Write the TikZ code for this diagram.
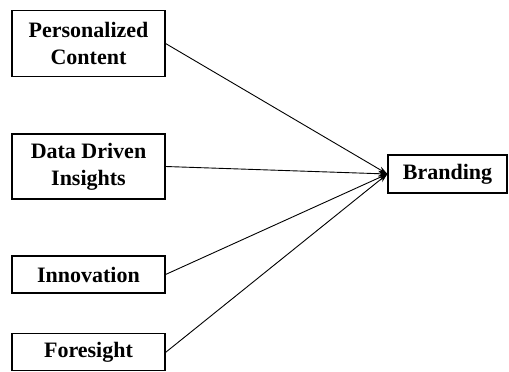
\documentclass[tikz,border=0pt]{standalone}
\usepackage{fontspec}
\setmainfont{Liberation Serif}
\usetikzlibrary{arrows.meta}

\begin{document}
\begin{tikzpicture}[x=1pt,y=1pt]
      \def\bw{153}
      \def\bx{88.5}

      \useasboundingbox (0,0) rectangle (509,372);

      \tikzset{factor/.style={shape=rectangle,draw,line width=1.2pt,
          minimum width=\bw pt,inner sep=0pt,align=center,
          font=\fontsize{22}{27}\selectfont\bfseries}}

      % left boxes
      \path node (pers) at (\bx,328.5) [factor,minimum height=66pt]
            {Personalized\\Content};
      \path node (data) at (\bx,205.5) [factor,minimum height=65pt]
            {Data Driven\\Insights};
      \path node (innov) at (\bx,97.5) [factor,minimum height=37pt]
            {Innovation};
      \path node (fore) at (\bx,19.6) [factor,minimum height=37pt]
            {Foresight};

      % right box
      \path node (brand) at (447.5,198) [factor,minimum width=119pt,
            minimum height=38pt] {Branding};

      % arrows
      \foreach \src in {pers,data,innov,fore}
               {
                 \draw[-{Stealth[length=9pt,width=6pt]},line width=0.9pt]
                 (\src.east) -- (brand.west);
               }
\end{tikzpicture}
\end{document}
